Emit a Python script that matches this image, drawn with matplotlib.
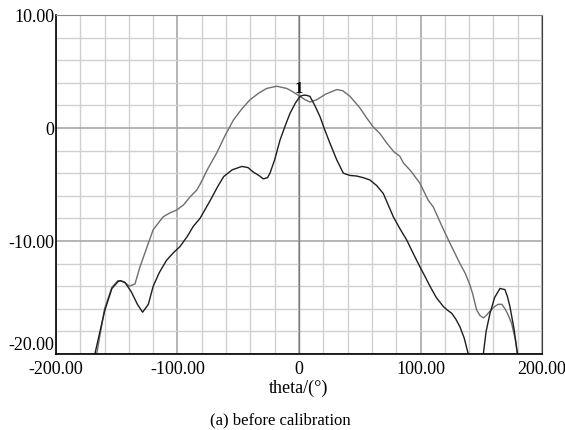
"""Radiation pattern before calibration."""

import numpy as np
import matplotlib
import matplotlib.pyplot as plt
from matplotlib.ticker import MultipleLocator

matplotlib.use("Agg")

plt.rcParams.update({
    "font.family": "Liberation Serif",
    "font.size": 13,
})

# lower (black) trace: theta in degrees, gain in dB
theta_a = [-172, -168, -160, -154, -149, -147, -143, -138, -133, -128.7, -124, -120,
           -115, -109, -103, -98, -92, -87, -81.5, -73, -67, -62, -55, -47, -42,
           -37.6, -33, -29.4, -26, -23.9, -20, -15.6, -11, -7.4, -3, 0.8, 3.5, 6,
           9, 13, 17.3, 21, 25.5, 31, 36.5, 42, 47.5, 53, 58.4, 64, 69.4, 77.6,
           83, 88.6, 94, 99.6, 104, 107.8, 113, 118.8, 122, 125.7, 129, 132.5,
           136, 139.3, 142, 145, 148, 151.7, 154, 157.2, 161, 165.4, 169.5, 171.5,
           173.6, 177, 179.8, 182]
gain_a = [-22.5, -20, -16.2, -14.2, -13.6, -13.5, -13.7, -14.5, -15.6, -16.3, -15.6,
          -14.0, -12.8, -11.7, -11.0, -10.5, -9.6, -8.7, -8.0, -6.4, -5.2, -4.3,
          -3.7, -3.4, -3.5, -3.9, -4.2, -4.5, -4.4, -4.0, -2.8, -1.06, 0.3, 1.3,
          2.2, 2.8, 2.9, 2.9, 2.8, 2.0, 1.0, -0.1, -1.35, -2.8, -4.0, -4.2, -4.25,
          -4.4, -4.6, -5.1, -5.8, -7.85, -8.9, -9.9, -11.1, -12.3, -13.2, -14.0,
          -15.0, -15.8, -16.1, -16.4, -16.9, -17.6, -18.6, -20, -21.5, -23,
          -22.5, -20, -18.0, -16.4, -15.0, -14.2, -14.3, -14.9, -15.8, -17.8,
          -20, -21.5]

# upper (grey) trace
theta_b = [-170, -166.5, -160, -154, -149, -144, -139.7, -135, -130.9, -125, -120,
           -115, -111.7, -106, -100.7, -95, -89.7, -84.2, -81.5, -75, -67.7, -61,
           -54, -47, -40.3, -33, -26.6, -18.4, -10, -5, 0.8, 5, 9, 14.5, 22, 31,
           36, 42, 50, 55, 61, 66.7, 72, 78, 83, 86, 92, 99.6, 102.3, 106.4, 110.6,
           116, 121.6, 127, 132.5, 137, 140.7, 143, 146.2, 149, 151.7, 154, 157.2,
           161, 164, 167, 169.5, 172, 175, 178, 179.8, 182]
gain_b = [-22.0, -20, -16.0, -14.1, -13.5, -13.6, -14.0, -13.8, -12.3, -10.5, -9.0,
          -8.3, -7.85, -7.5, -7.26, -6.8, -6.1, -5.5, -5.0, -3.6, -2.2, -0.7, 0.7,
          1.7, 2.5, 3.1, 3.5, 3.7, 3.5, 3.2, 2.8, 2.5, 2.3, 2.5, 3.0, 3.4, 3.3,
          2.8, 1.8, 1.0, 0.1, -0.5, -1.3, -2.1, -2.5, -3.1, -3.8, -4.9, -5.5,
          -6.4, -7.0, -8.3, -9.6, -10.8, -12.0, -12.9, -13.9, -14.7, -16.1, -16.6,
          -16.8, -16.6, -16.2, -15.8, -15.6, -15.6, -16.0, -16.5, -17.3, -18.7,
          -20, -21.5]

xticks = [-200, -100, 0, 100, 200]
xtick_labels = ["-200.00", "-100.00", "0", "100.00", "200.00"]
yticks = [-20, -10, 0, 10]
ytick_labels = ["-20.00", "-10.00", "0", "10.00"]

fig = plt.figure(figsize=(5.65, 4.30), dpi=100)
ax = fig.add_axes([0.0991, 0.1767, 0.8602, 0.7884])

ax.plot(theta_b, gain_b, color="#6e6e6e", linewidth=1.0)
ax.plot(theta_a, gain_a, color="#1e1e1e", linewidth=1.0)

ax.set_xlim(-200, 200)
ax.set_ylim(-20, 10)

# grid: light minor lines, darker major lines
ax.xaxis.set_minor_locator(MultipleLocator(20))
ax.yaxis.set_minor_locator(MultipleLocator(2))
ax.set_xticks(xticks)
ax.set_xticklabels(xtick_labels)
ax.set_yticks(yticks)
ax.set_yticklabels(ytick_labels)
ax.grid(which="minor", color="#d0d0d0", linewidth=1.0)
ax.grid(which="major", color="#a8a8a8", linewidth=1.2)
ax.axvline(0, color="#808080", linewidth=1.0, zorder=1.5)
ax.set_axisbelow(True)
ax.tick_params(which="both", length=0)
ax.tick_params(axis="y", pad=1)
ax.tick_params(axis="x", pad=5)
# lowest y label sits on the axis line so it clears the x labels
ax.get_yticklabels()[0].set_verticalalignment("bottom")

for side in ["left", "bottom"]:
    ax.spines[side].set_color("black")
    ax.spines[side].set_linewidth(1.2)
ax.spines["top"].set_color("#8a8a8a")
ax.spines["right"].set_color("#3a3a3a")

# marker label at the main-beam crossing
ax.text(0, 2.7, "1", ha="center", va="bottom", fontsize=12, fontweight="bold")

ax.set_xlabel("theta/(°)", labelpad=1)
fig.text(0.497, 0.023, "(a) before calibration", ha="center", va="center",
         fontsize=12)

fig.savefig("out.png", dpi=100)
plt.close(fig)
